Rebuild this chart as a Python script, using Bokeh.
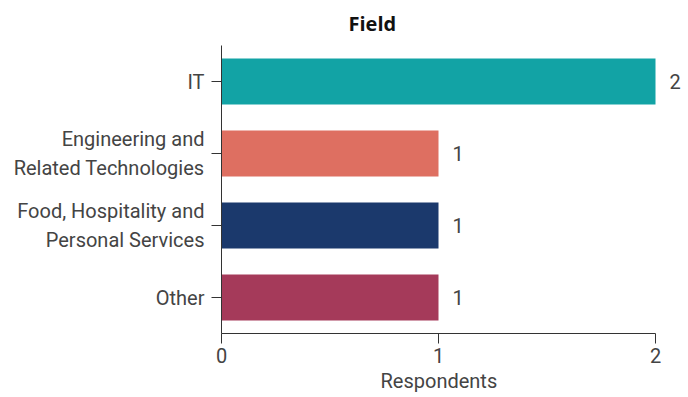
from bokeh.plotting import figure
from bokeh.models import ColumnDataSource, Range1d, FactorRange, Title
from bokeh.core.properties import value
from bokeh.embed import file_html
from bokeh.resources import INLINE

categories = ["IT", "Engineering and\nRelated Technologies",
              "Food, Hospitality and\nPersonal Services", "Other"]
respondents = [2, 1, 1, 1]
colors = ["#12A3A5", "#DE6F61", "#1B396C", "#A53A5A"]
x_ticks = [0, 1, 2]
x_max = 2

src = ColumnDataSource(dict(cat=categories, val=respondents, col=colors,
                            lab=[str(v) for v in respondents]))

p = figure(width=688, height=397, output_backend="svg", toolbar_location=None,
           y_range=FactorRange(*categories[::-1], range_padding=0),
           x_range=Range1d(0, x_max * 467 / 434),
           min_border_left=221, min_border_right=0, min_border_top=45,
           min_border_bottom=64)
p.title = None
p.add_layout(Title(text="", standoff=3, text_font_size="1px"), "above")
p.add_layout(Title(text="Field", align="left", offset=127, text_font="Open Sans",
                   text_font_size="20px", text_font_style="bold",
                   text_color="#111111", standoff=14, vertical_align="top"), "above")

p.hbar(y="cat", right="val", left=0, height=0.64, source=src,
       fill_color="col", line_color=None)
p.text(x="val", y="cat", text="lab", source=src, x_offset=14,
       text_align="left", text_baseline="middle",
       text_font=value("Roboto"), text_font_size="20px", text_color="#444444")

p.outline_line_color = None
p.xgrid.grid_line_color = None
p.ygrid.grid_line_color = None
p.background_fill_color = "white"

xa = p.xaxis[0]
xa.bounds = (0, x_max)
xa.ticker = x_ticks
xa.major_label_text_font = "Roboto"
xa.major_label_text_font_size = "20px"
xa.major_label_text_color = "#444444"
xa.major_label_standoff = 4
xa.axis_line_color = "#333333"
xa.major_tick_line_color = "#333333"
xa.major_tick_out = 10
xa.major_tick_in = 0
xa.minor_tick_line_color = None

p.add_layout(Title(text="Respondents", align="left", offset=159,
                   text_font="Roboto", text_font_size="20px",
                   text_font_style="normal", text_color="#444444",
                   standoff=2), "below")

ya = p.yaxis[0]
ya.major_label_text_font = "Roboto"
ya.major_label_text_font_size = "20px"
ya.major_label_text_color = "#444444"
ya.major_label_standoff = 7
ya.axis_line_color = "#333333"
ya.major_tick_line_color = "#333333"
ya.major_tick_out = 10
ya.major_tick_in = 0
ya.minor_tick_line_color = None

open("out.html", "w").write(file_html(p, INLINE))
